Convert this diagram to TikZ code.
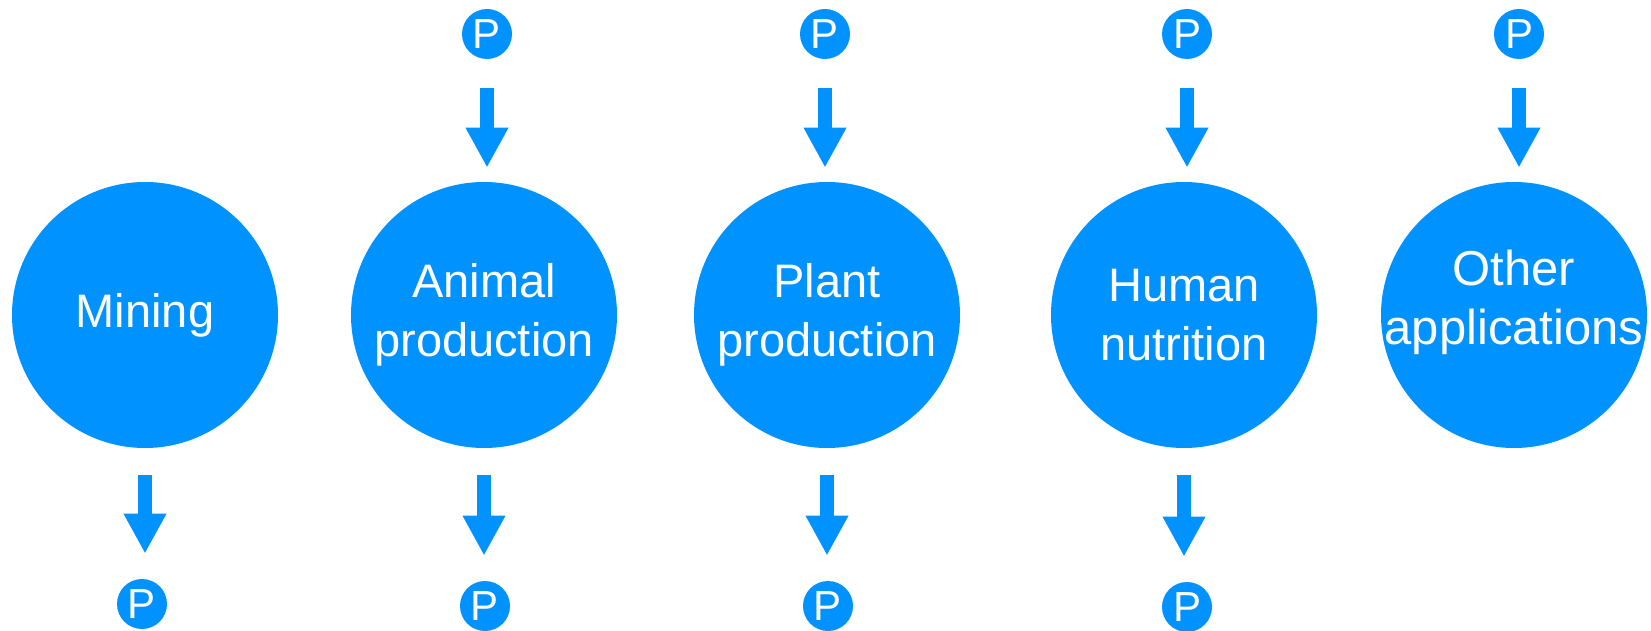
\documentclass[tikz,border=0pt]{standalone}
\usepackage{fontspec}
\setmainfont{Liberation Sans}
\usepackage{tikz}
\usetikzlibrary{arrows.meta}
\definecolor{flowblue}{RGB}{0,146,255}
\tikzstyle{stage}=[circle, fill=flowblue, text=white, inner sep=0pt, minimum size=133pt, align=center, font=\fontsize{23.5}{29.5}\selectfont]
\tikzstyle{phos}=[circle, fill=flowblue, text=white, inner sep=0pt, minimum size=25pt, font=\fontsize{21}{22}\selectfont]
\tikzstyle{arrow}=[draw=flowblue, line width=7pt, -{Triangle[length=20pt, width=20pt]}]

\begin{document}
\begin{tikzpicture}[x=0.5pt, y=-0.5pt]
		   \useasboundingbox (0, 0) rectangle (1651, 631);
		   % stages
		   \node[stage] (m) at (145, 315) {Mining};
		   \node[stage] (a) at (484, 315) {Animal\\production};
		   \node[stage] (p) at (827, 315) {Plant\\production};
		   \node[stage] (h) at (1184, 315) {Human\\nutrition};
		   \node[stage] (o) at (1514, 315) {};
		   \node[align=center, text=white, font=\fontsize{24.5}{29.5}\selectfont] (ot) at (1514, 302) {Other\\applications};
		   % phosphorus in
		   \node[phos] (ia) at (487, 34) {P};
		   \node[phos] (ip) at (825, 34) {P};
		   \node[phos] (ih) at (1187, 34) {P};
		   \node[phos] (io) at (1519, 34) {P};
		   % phosphorus out
		   \node[phos] (om) at (142, 604) {P};
		   \node[phos] (oa) at (485, 606) {P};
		   \node[phos] (op) at (828, 606) {P};
		   \node[phos] (oh) at (1187, 607) {P};
		   % arrows
		   \foreach \s in {a, p, h, o}
		   	\draw[arrow, shorten <=14.5pt, shorten >=7pt] (i\s.south) -- (i\s.south |- \s.north);
		   \foreach \s in {m, a, p, h}
		   	\draw[arrow, shorten <=13.5pt, shorten >=12.5pt] (\s.south) -- (\s.south |- o\s.north);
	   \end{tikzpicture}
\end{document}
